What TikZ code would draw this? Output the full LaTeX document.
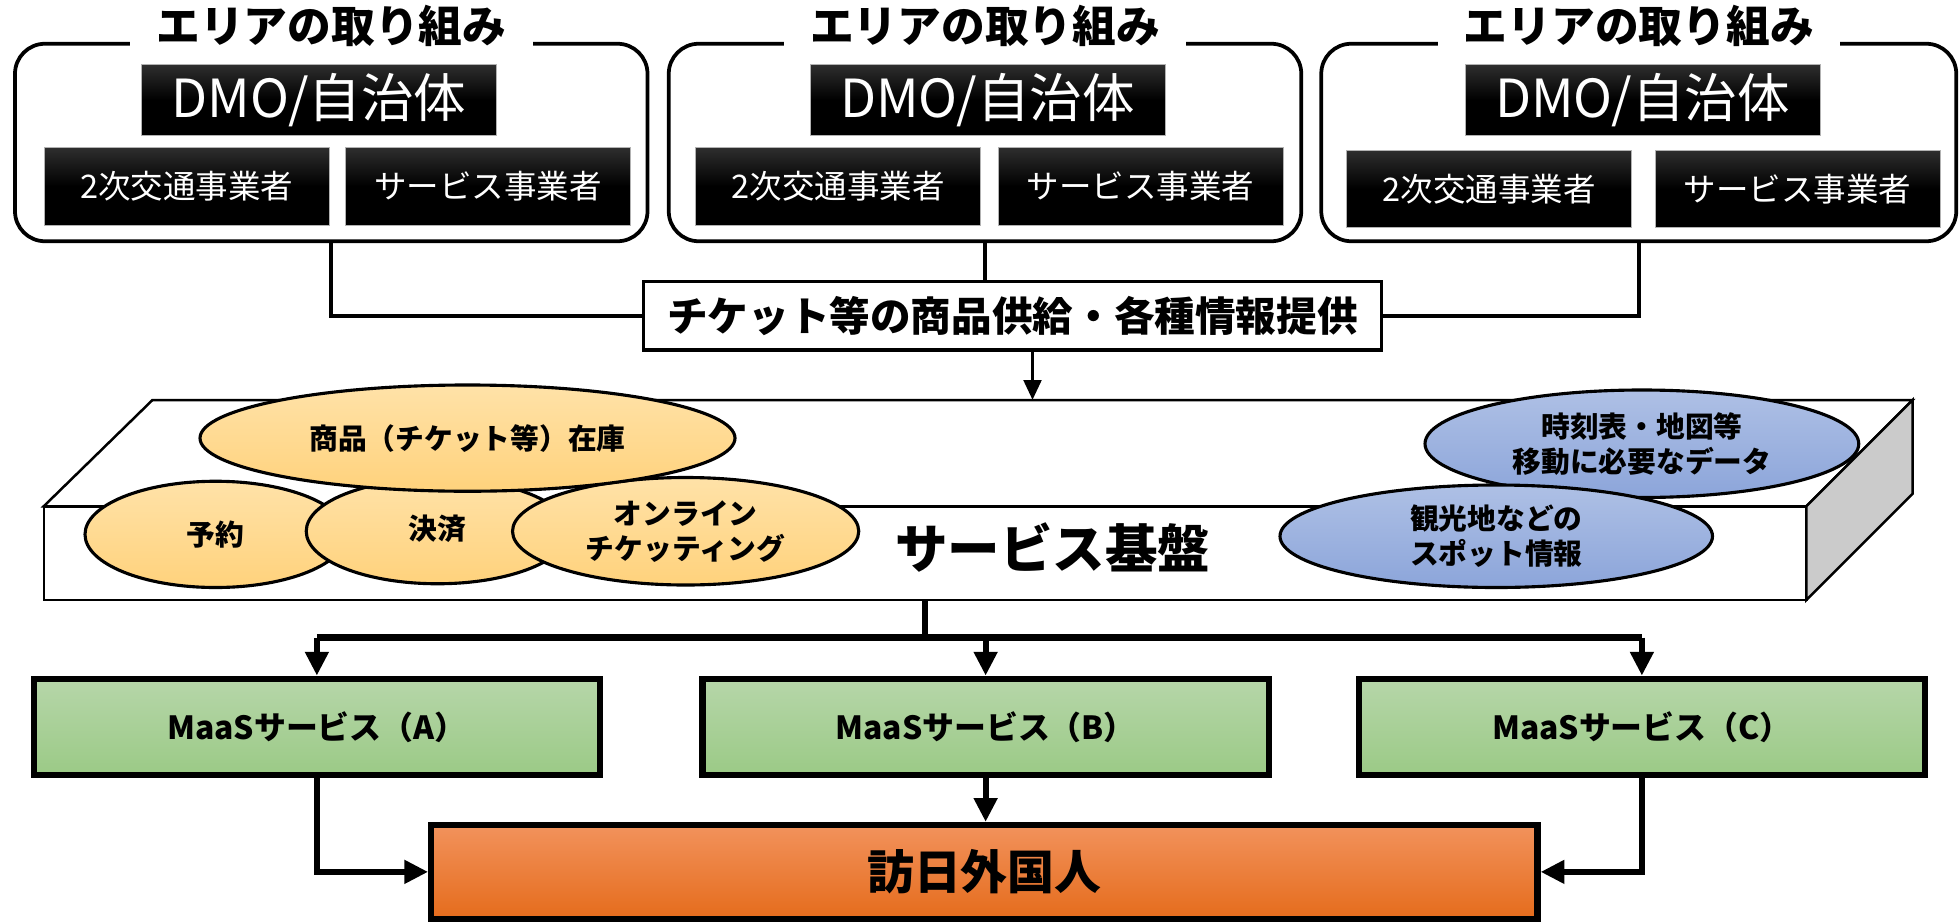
\documentclass[tikz,border=0pt]{standalone}
\usepackage{fontspec}
\setmainfont{Noto Sans CJK JP}
\usetikzlibrary{shapes.geometric,arrows.meta}
\definecolor{orgT}{HTML}{FFE2A8}
\definecolor{orgB}{HTML}{FFD27C}
\definecolor{bluT}{HTML}{AEC0E5}
\definecolor{bluB}{HTML}{8CA5DA}
\definecolor{grnT}{HTML}{B6D6A9}
\definecolor{grnB}{HTML}{9BCA86}
\definecolor{visT}{HTML}{F2925C}
\definecolor{visM}{HTML}{F47E2C}
\definecolor{visB}{HTML}{E56C1C}
\definecolor{sideG}{HTML}{CBCBCB}
\tikzset{
  areabox/.style={draw, line width=3, rounded corners=24, minimum width=506, minimum height=158, inner sep=0},
  areatitle/.style={fill=white, inner sep=0, minimum width=322, minimum height=36, font=\fontsize{35}{38}\selectfont\bfseries},
  blackbox/.style={draw=gray!60, line width=0.8, top color=black!82, bottom color=black, middle color=black, inner sep=0, text=white},
  dmobox/.style={blackbox, minimum width=284, minimum height=56, font=\fontsize{42}{46}\selectfont},
  subbox/.style={blackbox, minimum width=228, minimum height=62, font=\fontsize{26}{30}\selectfont},
  labelbox/.style={draw, line width=2.5, fill=white, minimum width=590, minimum height=55, inner sep=0, font=\fontsize{32.5}{36}\selectfont\bfseries},
  oval/.style={ellipse, draw, line width=2.5, inner sep=0, align=center, font=\fontsize{23}{28}\selectfont\bfseries},
  orgoval/.style={oval, top color=orgT, bottom color=orgB},
  bluoval/.style={oval, top color=bluT, bottom color=bluB},
  maasbox/.style={draw, line width=5, top color=grnT, bottom color=grnB, minimum width=453, minimum height=77, inner sep=0, font=\fontsize{25.5}{29}\selectfont\bfseries},
  visbox/.style={draw, line width=5, top color=visT, middle color=visM, bottom color=visB, minimum width=885, minimum height=75, inner sep=0, font=\fontsize{37.5}{41}\selectfont\bfseries},
  thinline/.style={line width=3},
  thinarr/.style={line width=3, -{Triangle[width=14,length=16]}},
  thickline/.style={line width=5},
  thickarr/.style={line width=5, -{Triangle[width=18,length=19]}},
}
\begin{document}
\begin{tikzpicture}[x=1pt,y=-1pt]
\useasboundingbox (0,0) rectangle (1568,738.4);

% area boxes
\node[areabox] (area1) at (265,114) {};
\node[areabox] (area2) at (788,114) {};
\node[areabox, minimum width=508] (area3) at (1311,114) {};
\node[areatitle] (t1) at (265,21) {エリアの取り組み};
\node[areatitle] (t2) at (788,21) {エリアの取り組み};
\node[areatitle] (t3) at (1311,21) {エリアの取り組み};

\node[dmobox] (dmo1) at (255,80) {DMO/自治体};
\node[dmobox] (dmo2) at (790,80) {DMO/自治体};
\node[dmobox] (dmo3) at (1314,80) {DMO/自治体};

\node[subbox] (tr1) at (149.5,149) {2次交通事業者};
\node[subbox] (sv1) at (390.5,149) {サービス事業者};
\node[subbox] (tr2) at (670.5,149) {2次交通事業者};
\node[subbox] (sv2) at (912.5,149) {サービス事業者};
\node[subbox] (tr3) at (1191.5,151) {2次交通事業者};
\node[subbox] (sv3) at (1438,151) {サービス事業者};

% label
\node[labelbox] (label) at (810,252.5) {チケット等の商品供給・各種情報提供};
\draw[thinline] (area1.south) |- (label.west);
\draw[thinline] (area3.south) |- (label.east);
\draw[thinline] (area2.south) -- (area2.south |- label.north);

% platform
\coordinate (plattop) at (826,320);
\coordinate (platbot) at (740,480);
\coordinate (split) at (740,510);
\draw[line width=2, fill=white] (35,405) -- (122,320) -- (1530,320) -- (1445,405) -- cycle;
\draw[line width=2, fill=white] (35,405) rectangle (1445,480);
\draw[line width=2, fill=sideG] (1445,405) -- (1530,320) -- (1530,395) -- (1445,480) -- cycle;
\node[font=\fontsize{42}{46}\selectfont\bfseries] (base) at (842,438) {サービス基盤};
\draw[thinarr] (label.south -| plattop) -- (plattop);

% ellipses
\node[orgoval, minimum width=209, minimum height=85] (yoyaku) at (172.5,427.5) {予約};
\node[orgoval, minimum width=210, minimum height=84] (kessai) at (350,425) {\raisebox{6pt}{決済}};
\node[orgoval, minimum width=277, minimum height=86] (online) at (548.5,425) {オンライン\\チケッティング};
\node[orgoval, minimum width=428, minimum height=85] (shohin) at (374,350.5) {商品（チケット等）在庫};
\node[bluoval, minimum width=347, minimum height=86] (jikoku) at (1313.5,355) {時刻表・地図等\\移動に必要なデータ};
\node[bluoval, minimum width=346, minimum height=82] (kanko) at (1197,429) {観光地などの\\スポット情報};

% MaaS
\node[maasbox] (maasA) at (253.5,581.5) {MaaSサービス（A）};
\node[maasbox] (maasB) at (788.5,581.5) {MaaSサービス（B）};
\node[maasbox] (maasC) at (1313.5,581.5) {MaaSサービス（C）};
\node[visbox] (visitor) at (787.5,697.5) {訪日外国人};

\draw[thickline] (platbot) -- (split);
\draw[thickline] (maasA.north |- split) -- (maasC.north |- split);
\draw[thickarr] (maasA.north |- split) -- (maasA.north);
\draw[thickarr] (maasB.north |- split) -- (maasB.north);
\draw[thickarr] (maasC.north |- split) -- (maasC.north);

\draw[thickarr] (maasA.south) |- (visitor.west);
\draw[thickarr] (maasB.south) -- (maasB.south |- visitor.north);
\draw[thickarr] (maasC.south) |- (visitor.east);
\end{tikzpicture}
\end{document}
